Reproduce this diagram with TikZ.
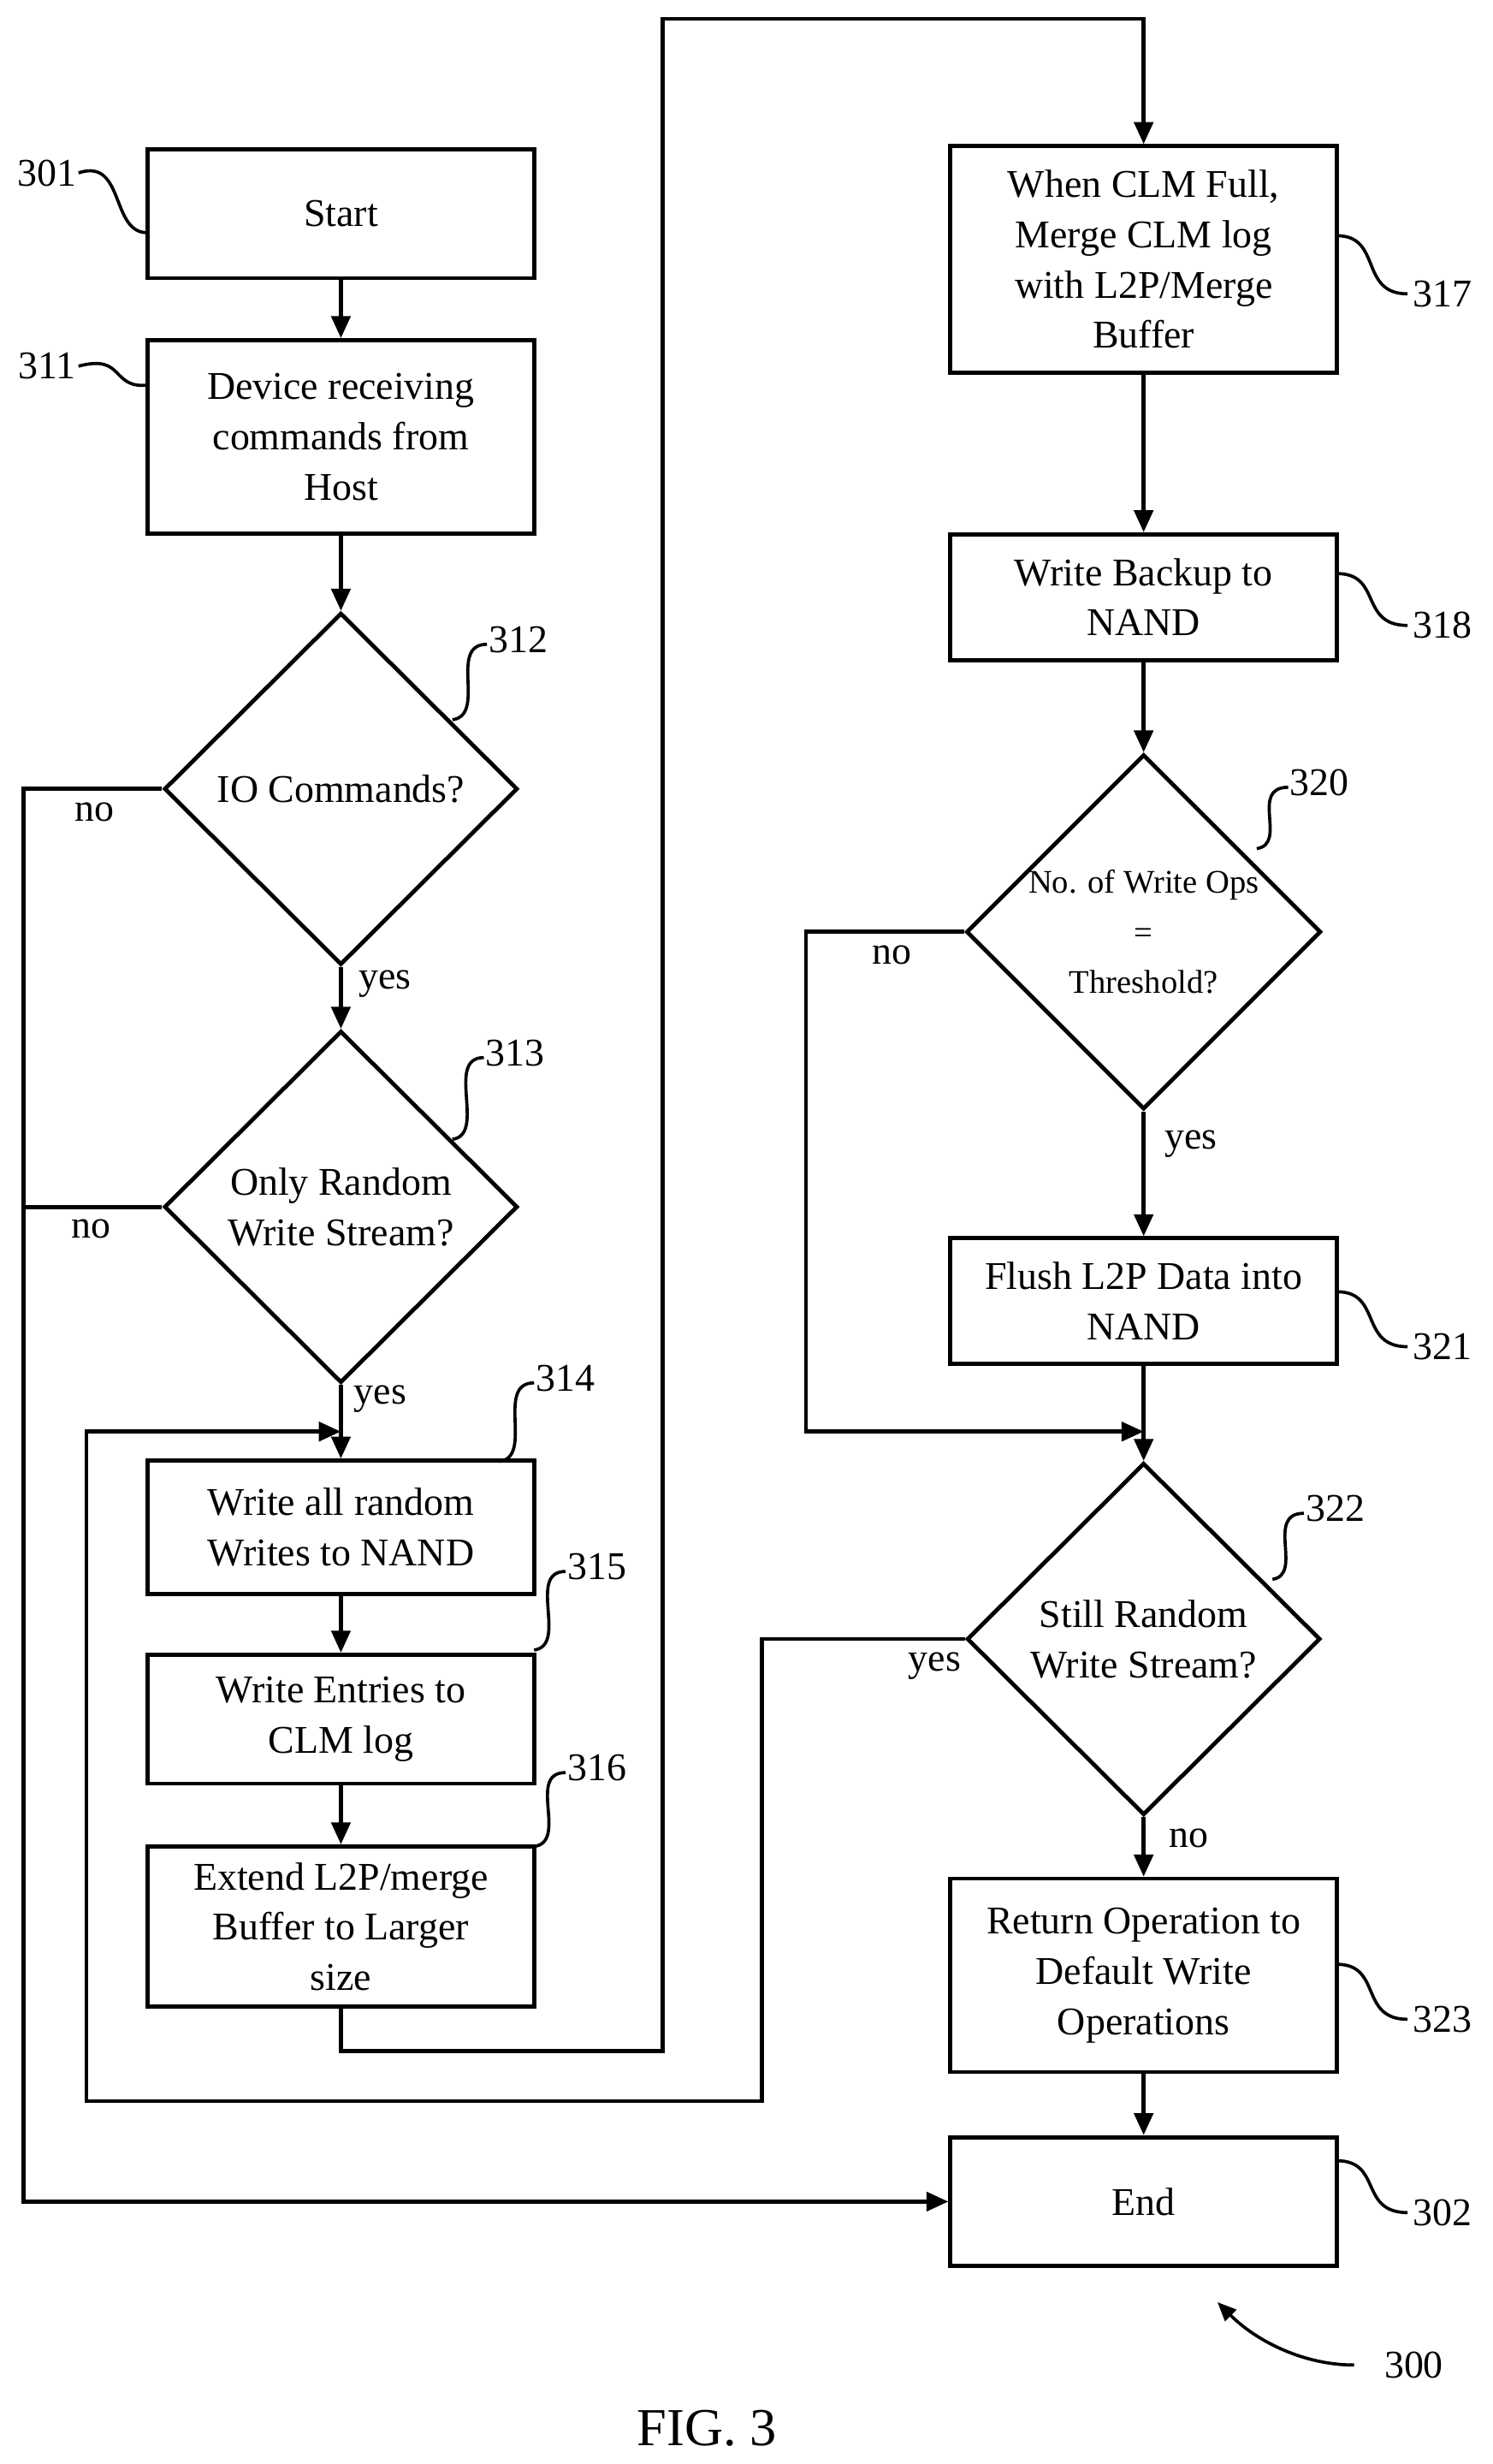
\documentclass[tikz,border=0pt]{standalone}
\usepackage{fontspec}
\setmainfont{Liberation Serif}
\usetikzlibrary{shapes.geometric,arrows.meta}
\begin{document}
\begin{tikzpicture}[x=1pt,y=-1pt,line width=2.6pt,
  box/.style={draw,rectangle,minimum width=246pt,align=center,font=\fontsize{25}{32}\selectfont,inner sep=0pt},
  dia/.style={draw,diamond,minimum width=225pt,minimum height=224pt,align=center,inner sep=0pt,font=\fontsize{25}{32}\selectfont},
  lab/.style={font=\fontsize{25}{30}\selectfont},
  arr/.style={-{Triangle[length=14pt,width=12pt]}},
  sq/.style={line width=2pt}]
\useasboundingbox (0,0) rectangle (950,1568);
% left column
\node[box,minimum height=82pt] (s301) at (217,136) {Start};
\node[box,minimum height=123pt] (s311) at (217,278) {Device receiving\\commands from\\Host};
\node[dia] (s312) at (217,502) {IO Commands?};
\node[dia] (s313) at (217,768) {Only Random\\Write Stream?};
\node[box,minimum height=85pt] (s314) at (217,972) {Write all random\\Writes to NAND};
\node[box,minimum height=82pt] (s315) at (217,1094) {Write Entries to\\CLM log};
\node[box,minimum height=102pt] (s316) at (217,1226) {Extend L2P/merge\\Buffer to Larger\\size};
% right column
\node[box,minimum height=144pt] (s317) at (728,165) {When CLM Full,\\Merge CLM log\\with L2P/Merge\\Buffer};
\node[box,minimum height=80pt] (s318) at (728,380) {Write Backup to\\NAND};
\node[dia,font=\fontsize{21}{32}\selectfont] (s320) at (728,593) {No. of Write Ops\\=\\Threshold?};
\node[box,minimum height=80pt] (s321) at (728,828) {Flush L2P Data into\\NAND};
\node[dia] (s322) at (728,1043) {Still Random\\Write Stream?};
\node[box,minimum height=123pt] (s323) at (728,1257) {Return Operation to\\Default Write\\Operations};
\node[box,minimum height=82pt] (s302) at (728,1401) {End};
% coordinates
\coordinate (a1) at (15,502); \coordinate (a2) at (15,1401);
\coordinate (a3) at (15,768);
\coordinate (b1) at (217,1305); \coordinate (b2) at (422,1305);
\coordinate (b3) at (422,12); \coordinate (b4) at (728,12);
\coordinate (c1) at (513,593); \coordinate (c2) at (513,911); \coordinate (c3) at (728,911);
\coordinate (d1) at (485,1043); \coordinate (d2) at (485,1337);
\coordinate (d3) at (55,1337); \coordinate (d4) at (55,911); \coordinate (d5) at (217,911);
% connectors
\draw[arr] (s301) -- (s311);
\draw[arr] (s311) -- (s312);
\draw[arr] (s312) -- (s313);
\draw[arr] (s313) -- (s314);
\draw[arr] (s314) -- (s315);
\draw[arr] (s315) -- (s316);
\draw[arr] (s312.west) -- (a1) -- (a2) -- (s302.west);
\draw (s313.west) -- (a3);
\draw[arr] (s316.south) -- (b1) -- (b2) -- (b3) -- (b4) -- (s317.north);
\draw[arr] (s317) -- (s318);
\draw[arr] (s318) -- (s320);
\draw[arr] (s320) -- (s321);
\draw[arr] (s321) -- (s322);
\draw[arr] (s320.west) -- (c1) -- (c2) -- (c3);
\draw[arr] (s322.west) -- (d1) -- (d2) -- (d3) -- (d4) -- (d5);
\draw[arr] (s322) -- (s323);
\draw[arr] (s323) -- (s302);
% yes/no labels
\node[lab] (l1) at (60,517) {no};
\node[lab] (l2) at (245,626) {yes};
\node[lab] (l3) at (58,782) {no};
\node[lab] (l4) at (242,890) {yes};
\node[lab] (l5) at (568,608) {no};
\node[lab] (l6) at (758,728) {yes};
\node[lab] (l7) at (595,1060) {yes};
\node[lab] (l8) at (757,1170) {no};
% reference labels
\node[lab] (r301) at (30,110) {301};
\draw[sq] (50,110) .. controls (80,100) and (70,150) .. (95,148);
\node[lab] (r311) at (30,233) {311};
\draw[sq] (50,233) .. controls (80,225) and (70,248) .. (95,245);
\node[lab] (r312) at (330,407) {312};
\draw[sq] (310,410) .. controls (285,410) and (310,455) .. (288,458);
\node[lab] (r313) at (328,670) {313};
\draw[sq] (308,673) .. controls (283,673) and (310,722) .. (288,725);
\node[lab] (r314) at (360,877) {314};
\draw[sq] (340,880) .. controls (315,880) and (340,927) .. (318,930);
\node[lab] (r315) at (380,997) {315};
\draw[sq] (360,1000) .. controls (335,1000) and (362,1047) .. (340,1050);
\node[lab] (r316) at (380,1125) {316};
\draw[sq] (360,1128) .. controls (335,1128) and (362,1172) .. (340,1175);
\node[lab] (r317) at (918,187) {317};
\draw[sq] (851,150) .. controls (880,150) and (865,187) .. (896,187);
\node[lab] (r318) at (918,398) {318};
\draw[sq] (851,365) .. controls (880,365) and (865,398) .. (896,398);
\node[lab] (r320) at (840,498) {320};
\draw[sq] (820,501) .. controls (795,501) and (820,537) .. (800,540);
\node[lab] (r321) at (918,857) {321};
\draw[sq] (851,822) .. controls (880,822) and (865,857) .. (896,857);
\node[lab] (r322) at (850,960) {322};
\draw[sq] (830,963) .. controls (805,963) and (830,1002) .. (810,1005);
\node[lab] (r323) at (918,1285) {323};
\draw[sq] (851,1250) .. controls (880,1250) and (865,1285) .. (896,1285);
\node[lab] (r302) at (918,1408) {302};
\draw[sq] (851,1375) .. controls (880,1375) and (865,1408) .. (896,1408);
\node[lab] (r300) at (900,1505) {300};
\draw[sq,-{Triangle[length=12pt,width=10pt]}] (862,1505) .. controls (830,1505) and (800,1490) .. (775,1465);
\node[font=\fontsize{34}{40}\selectfont] (fig) at (450,1545) {FIG. 3};
\end{tikzpicture}
\end{document}
